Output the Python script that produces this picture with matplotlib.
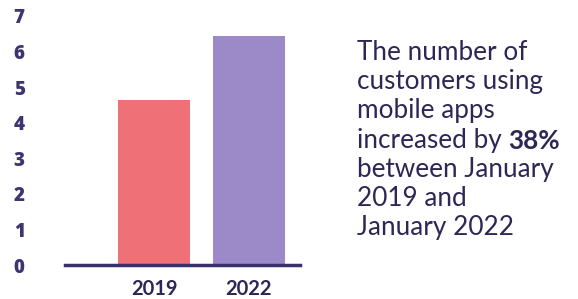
import matplotlib.pyplot as plt

# chart data
years = ['2019', '2022']
customers = [4.65, 6.43]
bar_colors = ['#ef7077', '#9c89c7']
y_ticks = [0, 1, 2, 3, 4, 5, 6, 7]
note_lines = ['The number of', 'customers using', 'mobile apps',
              'increased by ', 'between January', '2019 and', 'January 2022']
note_bold = '38%'

navy = '#2d2755'
plt.rcParams['font.family'] = ['Lato', 'DejaVu Sans']

fig = plt.figure(figsize=(5.78, 2.99), dpi=100, facecolor='white')
ax = fig.add_axes([0.1125, 0.1137, 0.4065, 0.8328])

ax.bar(range(len(years)), customers, width=0.76, color=bar_colors)
ax.set_xlim(-0.937, 1.537)
ax.set_ylim(0, 7)

ax.set_xticks(range(len(years)))
ax.set_xticklabels(years, fontsize=14.5, fontweight='bold', color=navy)
ax.set_yticks(y_ticks)
ax.set_yticklabels([str(t) for t in y_ticks], fontsize=13.5, fontweight='heavy',
                   color='#3d3470', family='Open Sans')
ax.tick_params(axis='x', length=0, pad=10)
ax.tick_params(axis='y', length=0, pad=29)

for s in ['top', 'right', 'left']:
    ax.spines[s].set_visible(False)
ax.spines['bottom'].set_color('#3b2f6e')
ax.spines['bottom'].set_linewidth(2.5)

# side note, line by line
y0 = 1 - 60 / 299
step = 29.2 / 299
for i, line in enumerate(note_lines):
    t = fig.text(0.617, y0 - i * step, line, fontsize=18.8, color=navy,
                 ha='left', va='baseline')
    if i == 3:
        fig.canvas.draw()
        ax.annotate(note_bold, xy=(1, 0), xycoords=t, fontsize=18.8,
                    fontweight='bold', color=navy, ha='left', va='bottom',
                    annotation_clip=False)

fig.savefig('out.png', dpi=100, facecolor='white')
